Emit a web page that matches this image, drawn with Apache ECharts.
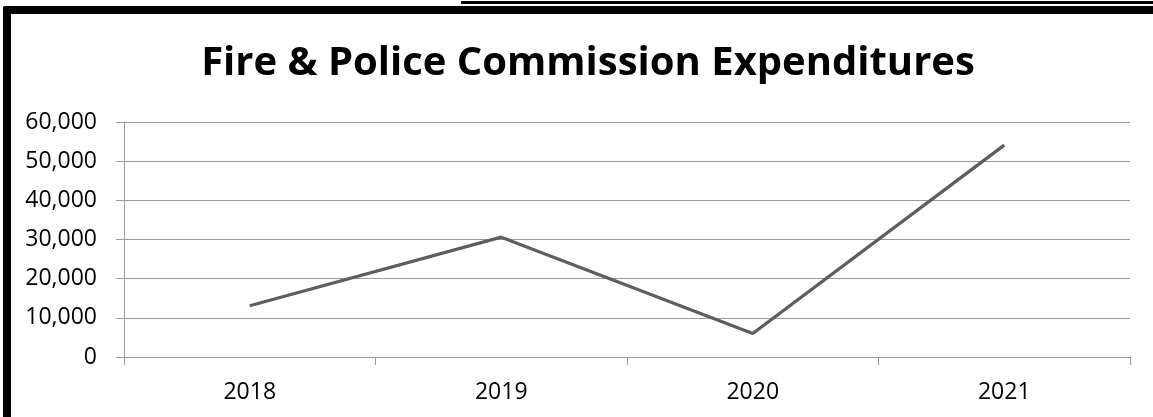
<!DOCTYPE html>
<html>
<head>
<meta charset="utf-8">
<script src="https://cdn.jsdelivr.net/npm/echarts@6/dist/echarts.min.js"></script>
<style>
  html, body { margin: 0; padding: 0; background: #ffffff; }
  #chart { width: 1153px; height: 417px; }
</style>
</head>
<body>
<div id="chart"></div>
<script>
// Annual expenditures for the Fire & Police Commission
const years = ['2018', '2019', '2020', '2021'];
const expenditures = [13100, 30600, 6000, 54100];
const yTicks = [0, 10000, 20000, 30000, 40000, 50000, 60000];

const chart = echarts.init(document.getElementById('chart'), null, { renderer: 'canvas' });
const axisGray = '#9a9a9a';
const font = '"Open Sans", "Noto Sans", sans-serif';

chart.setOption({
  animation: false,
  backgroundColor: '#ffffff',
  title: {
    text: 'Fire & Police Commission Expenditures',
    left: 583,
    textAlign: 'center',
    top: 39,
    textStyle: { fontFamily: font, fontWeight: 'bold', fontSize: 40, color: '#000000' }
  },
  grid: { left: 124, right: 23, top: 122, bottom: 60, containLabel: false },
  xAxis: {
    type: 'category',
    data: years,
    boundaryGap: true,
    axisLine: { lineStyle: { color: axisGray, width: 1 } },
    axisTick: { show: true, length: 8, alignWithLabel: false, lineStyle: { color: axisGray } },
    axisLabel: { margin: 24, fontFamily: font, fontSize: 23, color: '#000000' },
    splitLine: { show: false }
  },
  yAxis: {
    type: 'value',
    min: yTicks[0],
    max: yTicks[yTicks.length - 1],
    interval: yTicks[1] - yTicks[0],
    axisLine: { show: true, lineStyle: { color: axisGray, width: 1 } },
    axisTick: { show: true, length: 8, lineStyle: { color: axisGray } },
    axisLabel: {
      margin: 27,
      fontFamily: font,
      fontSize: 23,
      color: '#000000',
      formatter: v => v.toLocaleString('en-US')
    },
    splitLine: { show: true, lineStyle: { color: axisGray, width: 1 } }
  },
  series: [{
    type: 'line',
    data: expenditures,
    symbol: 'none',
    lineStyle: { color: '#5e5e5e', width: 3.2 },
    z: 3
  }],
  graphic: [
    // frame: thick black edges on the left and top, thin rule above on the right
    { type: 'rect', shape: { x: 3, y: 6, width: 8, height: 420, r: 2 }, style: { fill: '#000000' }, silent: true },
    { type: 'rect', shape: { x: 3, y: 6, width: 1160, height: 8, r: 2 }, style: { fill: '#000000' }, silent: true },
    { type: 'rect', shape: { x: 461, y: 1, width: 700, height: 3 }, style: { fill: '#000000' }, silent: true }
  ]
});
</script>
</body>
</html>
